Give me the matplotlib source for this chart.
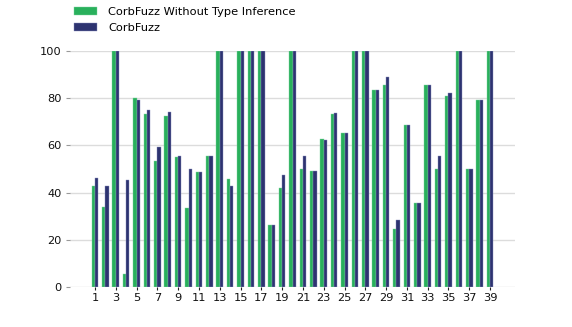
import matplotlib
matplotlib.use("Agg")
import matplotlib.pyplot as plt
import numpy as np

categories = list(range(1, 40))
without_ti = [42.6, 33.9, 100, 5.4, 80.0, 73.3, 53.3, 72.7, 55.1, 33.4,
              48.6, 55.7, 100, 45.9, 100, 100, 100, 26.1, 41.9, 100,
              49.9, 49.1, 62.8, 73.3, 65.5, 100, 100, 83.4, 85.7, 24.6,
              68.9, 35.7, 85.8, 49.9, 81.1, 100, 50.0, 79.3, 100]
corbfuzz = [46.2, 42.6, 100, 45.5, 79.5, 75.0, 59.4, 74.4, 55.7, 50.0,
            48.6, 55.7, 100, 43.0, 100, 100, 100, 26.1, 47.6, 100,
            55.7, 49.3, 62.4, 73.7, 65.5, 100, 100, 83.4, 88.9, 28.4,
            68.9, 35.7, 85.8, 55.7, 82.4, 100, 50.0, 79.3, 100]
series_names = ["CorbFuzz Without Type Inference", "CorbFuzz"]
yticks = [0, 20, 40, 60, 80, 100]
xticks = list(range(1, 40, 2))

green = "#29b05c"
navy = "#2d3370"

plt.rcParams['font.family'] = ['DejaVu Sans']
fig = plt.figure(figsize=(5.72, 3.27), dpi=100)
ax = fig.add_axes([0.1224, 0.1232, 0.778, 0.7198])

x = np.array(categories, dtype=float)
w = 0.32
ax.bar(x - w / 2, without_ti, width=w, color=green, edgecolor="#7fd49f",
       linewidth=0.3, label=series_names[0], zorder=3)
ax.bar(x + w / 2, corbfuzz, width=w, color=navy, edgecolor="#8a8fbf",
       linewidth=0.3, label=series_names[1], zorder=3)

ax.set_xlim(-1.4, 41.4)
ax.set_ylim(0, 100)
ax.set_yticks(yticks)
ax.set_xticks(xticks)
ax.set_xticklabels([str(t) for t in xticks])
ax.grid(axis="y", color="#dcdcdc", linewidth=1.0, zorder=0)
ax.set_axisbelow(True)
for s in ax.spines.values():
    s.set_visible(False)
ax.tick_params(axis="y", length=3, width=0.8, color="#999999", labelsize=8.2,
               pad=3, labelcolor="#111111")
ax.tick_params(axis="x", length=2.5, width=0.8, color="#222222", labelsize=8.2,
               pad=2, labelcolor="#111111")

fig.legend(loc="upper left", bbox_to_anchor=(0.117, 1.0), frameon=False,
           fontsize=8.2, handlelength=2.0, handleheight=0.75,
           handletextpad=1.0, labelspacing=0.5, borderaxespad=0.2)

fig.savefig("out.png", dpi=100)
